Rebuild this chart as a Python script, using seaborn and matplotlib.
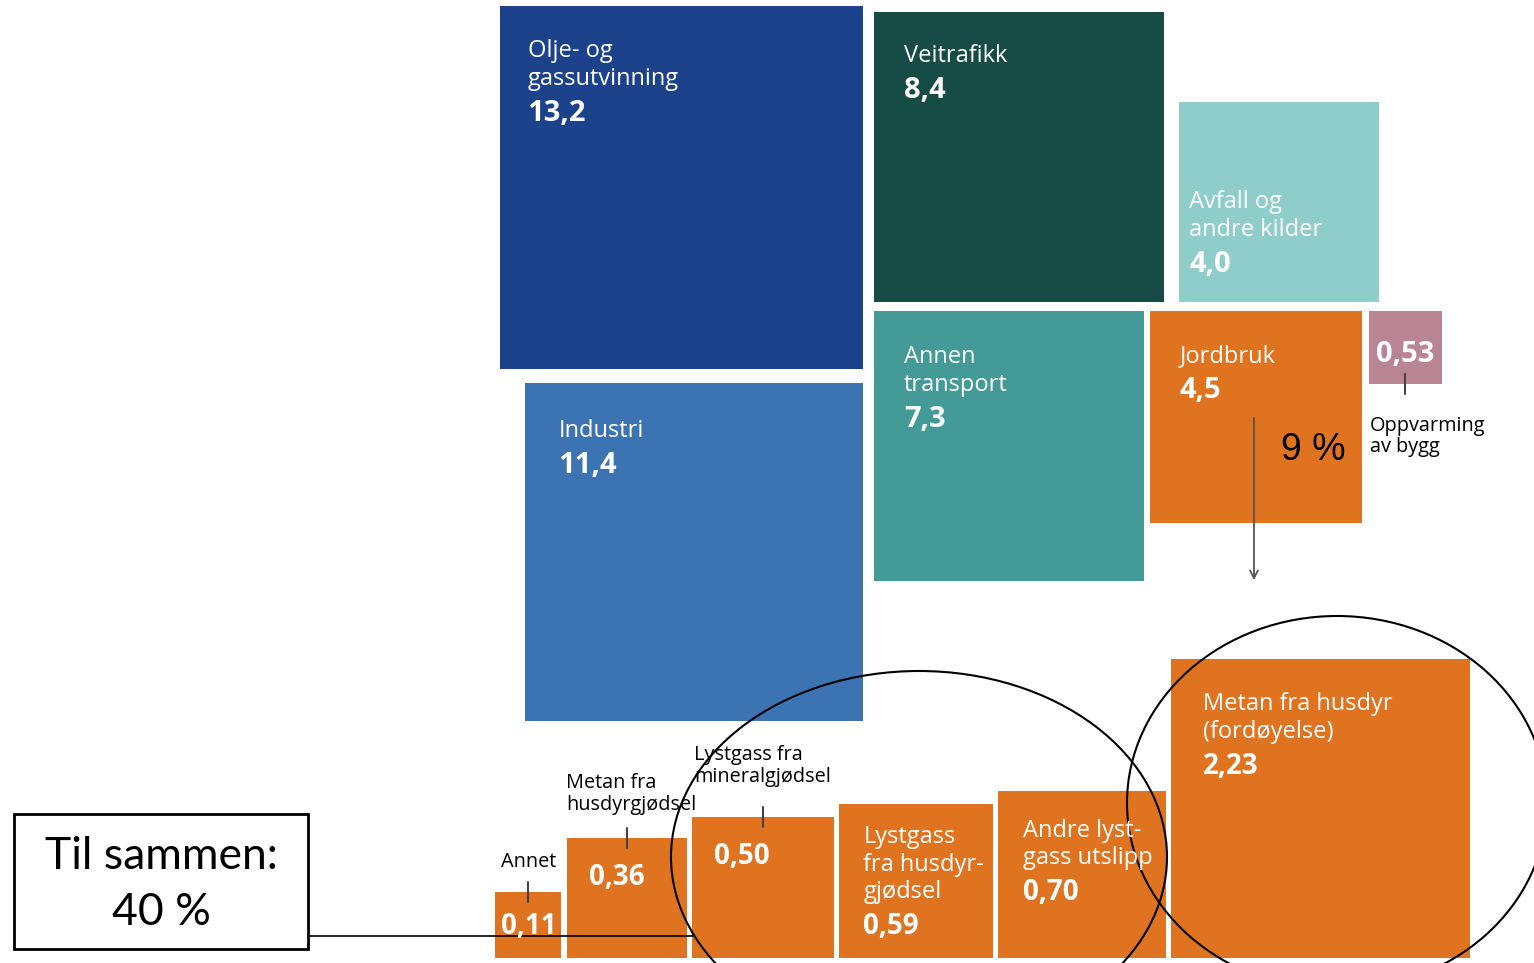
import numpy as np
import matplotlib
matplotlib.use("Agg")
import matplotlib.pyplot as plt
from matplotlib.patches import Rectangle, Ellipse
import seaborn as sns

# ---------------- data ----------------
top_categories = ["Olje- og\ngassutvinning", "Industri", "Veitrafikk", "Annen\ntransport",
                  "Avfall og\nandre kilder", "Jordbruk", "Oppvarming\nav bygg"]
top_values = [13.2, 11.4, 8.4, 7.3, 4.0, 4.5, 0.53]
top_value_labels = ["13,2", "11,4", "8,4", "7,3", "4,0", "4,5", "0,53"]

ag_categories = ["Annet", "Metan fra\nhusdyrgjødsel", "Lystgass fra\nmineralgjødsel",
                 "Lystgass\nfra husdyr-\ngjødsel", "Andre lyst-\ngass utslipp",
                 "Metan fra husdyr\n(fordøyelse)"]
ag_values = [0.11, 0.36, 0.50, 0.59, 0.70, 2.23]
ag_value_labels = ["0,11", "0,36", "0,50", "0,59", "0,70", "2,23"]

jordbruk_share = "9 %"
total_text = "Til sammen:\n40 %"

# ---------------- style / layout ----------------
sns.set_theme(style="white")
plt.rcParams["font.family"] = ["Open Sans", "DejaVu Sans"]

W, H = 1534, 963
fig = plt.figure(figsize=(W / 100, H / 100), dpi=100)
ax = fig.add_axes([0, 0, 1, 1])
ax.set_xlim(0, W)
ax.set_ylim(H, 0)
ax.axis("off")

ORANGE = "#E0731F"
top_colors = ["#1B428A", "#3C73B2", "#164C45", "#439A97", "#8FCDCA", ORANGE, "#B98494"]
# anchor x, anchor y, horizontal side of anchor, vertical side of anchor
top_anchor = [(863, 6, "right", "top"), (863, 383, "right", "top"), (874, 302, "left", "bottom"),
              (874, 311, "left", "top"), (1179, 302, "left", "bottom"), (1150, 311, "left", "top"),
              (1369, 311, "left", "top")]
# text offset: dx, first baseline dy from top
top_text = [(28, 51), (33, 54), (30, 50), (30, 52), (10, 106), (30, 51), (None, 51)]
SCALE_TOP = 100.0
SCALE_AG = 200.0
LBL = 17
VAL = 21
LBL_GAP = 28
VAL_GAP = 36
SMALL = 14.3


def lines_at(x, y, text, gap, **kw):
    for i, line in enumerate(text.split("\n")):
        ax.text(x, y + i * gap, line, va="baseline", **kw)
    return y + (len(text.split("\n")) - 1) * gap


boxes = {}
for cat, v, vl, col, anc, tx in zip(top_categories, top_values, top_value_labels,
                                    top_colors, top_anchor, top_text):
    side = SCALE_TOP * np.sqrt(v)
    ax_, ay_, hs, vs = anc
    left = ax_ if hs == "left" else ax_ - side
    top = ay_ if vs == "top" else ay_ - side
    ax.add_patch(Rectangle((left, top), side, side, facecolor=col, edgecolor="none"))
    boxes[cat] = (left, top, side)
    dx, dy = tx
    if dx is None:
        # small box: value only, label outside
        ax.text(left + side / 2, top + dy, vl, ha="center", va="baseline", color="white",
                fontsize=VAL, fontweight="bold")
        ax.plot([left + side / 2] * 2, [top + side - 10, top + side + 10], color="#444", lw=1.5)
        lines_at(left + 1, top + side + 47, cat, 21.5, color="black", fontsize=SMALL)
    else:
        last = lines_at(left + dx, top + dy, cat, LBL_GAP, color="white", fontsize=LBL)
        ax.text(left + dx, last + VAL_GAP, vl, va="baseline", color="white",
                fontsize=VAL, fontweight="bold")

# Jordbruk annotations
jl, jt, js = boxes["Jordbruk"]
ax.text(jl + js - 17, jt + 149, jordbruk_share, ha="right", va="baseline",
        fontsize=27, color="black", family=["Liberation Sans", "DejaVu Sans"])
ax.annotate("", xy=(jl + 104, 583), xytext=(jl + 104, jt + 104),
            arrowprops=dict(arrowstyle="->", color="#555555", lw=1.3, mutation_scale=14))

# agriculture breakdown
BOTTOM = 958
GAP = 5.5
ag_sides = [SCALE_AG * np.sqrt(v) for v in ag_values]
ag_lefts = 495 + np.concatenate([[0], np.cumsum(np.array(ag_sides[:-1]) + GAP)])
# (mode, dx, dy)
ag_text = [("above_c", 6, 42), ("above_l", 22, 47), ("above_l2", 22, 47),
           ("inside", 24, 39), ("inside", 25, 46), ("inside", 32, 51)]
for cat, v, vl, side, left, tx in zip(ag_categories, ag_values, ag_value_labels,
                                      ag_sides, ag_lefts, ag_text):
    top = BOTTOM - side
    ax.add_patch(Rectangle((left, top), side, side, facecolor=ORANGE, edgecolor="none"))
    mode, dx, dy = tx
    if mode == "inside":
        last = lines_at(left + dx, top + dy, cat, 27.3, color="white", fontsize=LBL)
        ax.text(left + dx, last + 36, vl, va="baseline", color="white",
                fontsize=20, fontweight="bold")
    else:
        ax.text(left + dx, top + dy, vl, va="baseline", color="white",
                fontsize=20, fontweight="bold")
        cx = left + side / 2
        ax.plot([cx, cx], [top - 10, top + 10], color="#444", lw=1.5)
        n = len(cat.split("\n"))
        if mode == "above_c":
            ax.text(cx, top - 25, cat, ha="center", va="baseline", fontsize=SMALL, color="black")
        else:
            off = 28 if mode == "above_l" else 35
            lines_at(left + (-1 if mode == "above_l" else 2), top - off - (n - 1) * 21.5,
                     cat, 21.5, color="black", fontsize=SMALL)

# total box and connector
ax.add_patch(Rectangle((14, 814), 294, 135, facecolor="white", edgecolor="black", lw=2))
tl = total_text.split("\n")
ax.text(161, 869, tl[0], ha="center", va="baseline", fontsize=32, color="black",
        family=["Lato", "DejaVu Sans"])
ax.text(161, 925, tl[1], ha="center", va="baseline", fontsize=32, color="black",
        family=["Lato", "DejaVu Sans"])
ax.plot([308, 693], [936, 936], color="black", lw=1.2)

# highlight ellipses
ax.add_patch(Ellipse((919, 857), 496, 372, fill=False, edgecolor="black", lw=1.5))
ax.add_patch(Ellipse((1337, 803), 420, 374, fill=False, edgecolor="black", lw=1.5))

fig.savefig("out.png", dpi=100, facecolor="white")
